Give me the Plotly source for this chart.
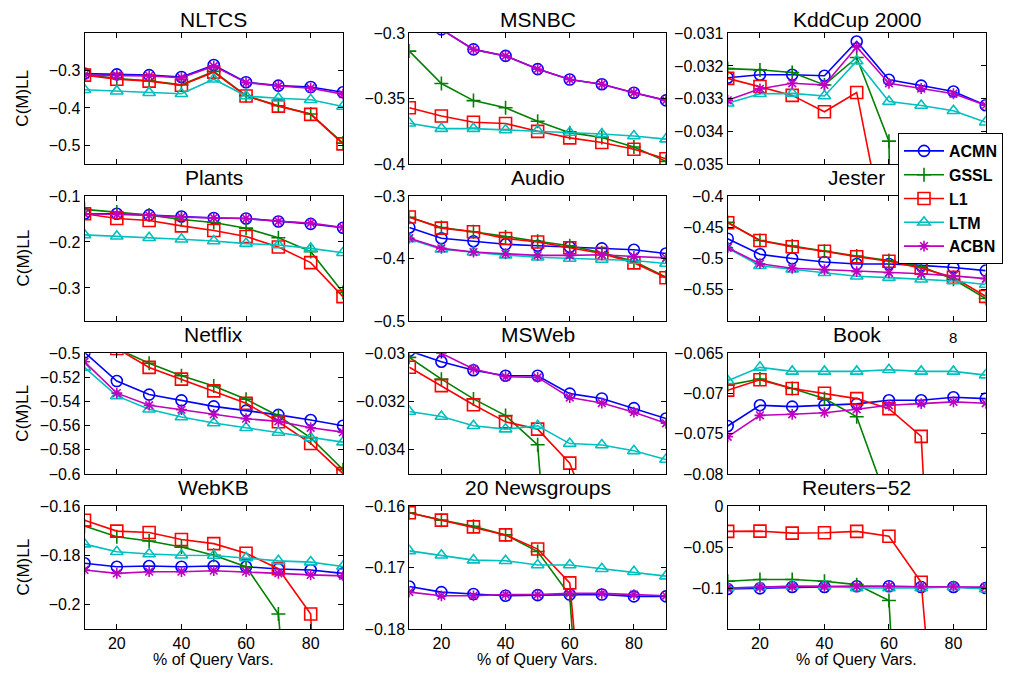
import plotly.graph_objects as go

# Page body has an 8px margin: draw the figure 16px smaller and position in reference pixels minus 8.
W, H = 1015, 662
OFF = 8
query_pct = [10, 20, 30, 40, 50, 60, 70, 80, 90]
methods = ["ACMN", "GSSL", "L1", "LTM", "ACBN"]

nltcs = {
    "ACMN": [-0.308, -0.310, -0.312, -0.317, -0.285, -0.331, -0.340, -0.344, -0.358],
    "GSSL": [-0.310, -0.321, -0.327, -0.338, -0.302, -0.367, -0.394, -0.416, -0.494],
    "L1":   [-0.312, -0.323, -0.328, -0.339, -0.304, -0.368, -0.395, -0.417, -0.496],
    "LTM":  [-0.351, -0.355, -0.359, -0.362, -0.323, -0.368, -0.374, -0.378, -0.396],
    "ACBN": [-0.312, -0.313, -0.314, -0.319, -0.288, -0.332, -0.341, -0.347, -0.363],
}
msnbc = {
    "ACMN": [-0.275, -0.297, -0.3123, -0.3173, -0.3274, -0.3354, -0.3390, -0.3455, -0.3513],
    "GSSL": [-0.3136, -0.3384, -0.3515, -0.3570, -0.3673, -0.3760, -0.3797, -0.3870, -0.3980],
    "L1":   [-0.3570, -0.3633, -0.3680, -0.3690, -0.3750, -0.3800, -0.3836, -0.3887, -0.3960],
    "LTM":  [-0.3688, -0.3729, -0.3729, -0.3740, -0.3746, -0.3759, -0.3770, -0.3786, -0.3810],
    "ACBN": [-0.275, -0.297, -0.3123, -0.3173, -0.3274, -0.3354, -0.3390, -0.3455, -0.3513],
}
kddcup = {
    "ACMN": [-0.03236, -0.03227, -0.03227, -0.03230, -0.03125, -0.03242, -0.03260, -0.03278, -0.03320],
    "GSSL": [-0.03208, -0.03212, -0.03220, -0.03258, -0.03174, -0.03430, -0.10, -0.10, -0.10],
    "L1":   [-0.03238, -0.03263, -0.03290, -0.03340, -0.03281, -0.03780, -0.060, -0.070, -0.080],
    "LTM":  [-0.03314, -0.03285, -0.03284, -0.03292, -0.03185, -0.03309, -0.03321, -0.03337, -0.03372],
    "ACBN": [-0.03305, -0.03270, -0.03253, -0.03258, -0.03142, -0.03253, -0.03269, -0.03285, -0.03320],
}
plants = {
    "ACMN": [-0.1387, -0.1387, -0.1416, -0.1445, -0.1480, -0.1490, -0.1555, -0.1606, -0.1690],
    "GSSL": [-0.1290, -0.1350, -0.1416, -0.1510, -0.1577, -0.1700, -0.1910, -0.2210, -0.3100],
    "L1":   [-0.1387, -0.1490, -0.1533, -0.1650, -0.1750, -0.1880, -0.2110, -0.2450, -0.3190],
    "LTM":  [-0.1847, -0.1876, -0.1910, -0.1940, -0.1980, -0.2036, -0.2066, -0.2140, -0.2234],
    "ACBN": [-0.1387, -0.1400, -0.1420, -0.1460, -0.1475, -0.1490, -0.1550, -0.1590, -0.1685],
}
audio = {
    "ACMN": [-0.3503, -0.3676, -0.3724, -0.3773, -0.3795, -0.3816, -0.3838, -0.3860, -0.3920],
    "GSSL": [-0.3340, -0.3503, -0.3573, -0.3654, -0.3724, -0.3795, -0.3908, -0.4043, -0.4297],
    "L1":   [-0.3335, -0.3514, -0.3573, -0.3680, -0.3735, -0.3827, -0.3920, -0.4070, -0.4308],
    "LTM":  [-0.3686, -0.3850, -0.3900, -0.3946, -0.3980, -0.4000, -0.4016, -0.4032, -0.4080],
    "ACBN": [-0.3676, -0.3838, -0.3897, -0.3924, -0.3950, -0.3950, -0.3940, -0.3968, -0.3990],
}
jester = {
    "ACMN": [-0.4683, -0.4933, -0.5000, -0.5056, -0.5089, -0.5089, -0.5110, -0.5144, -0.5194],
    "GSSL": [-0.4422, -0.4711, -0.4800, -0.4883, -0.4961, -0.5033, -0.5128, -0.5333, -0.5639],
    "L1":   [-0.4428, -0.4711, -0.4811, -0.4883, -0.4972, -0.5044, -0.5156, -0.5300, -0.5606],
    "LTM":  [-0.4833, -0.5117, -0.5172, -0.5228, -0.5283, -0.5306, -0.5333, -0.5361, -0.5417],
    "ACBN": [-0.4828, -0.5083, -0.5156, -0.5178, -0.5211, -0.5228, -0.5244, -0.5278, -0.5322],
}
netflix = {
    "ACMN": [-0.4992, -0.5230, -0.5342, -0.5390, -0.5440, -0.5475, -0.5510, -0.5553, -0.5600],
    "GSSL": [-0.475, -0.496, -0.5083, -0.5186, -0.5270, -0.5380, -0.5520, -0.5700, -0.5964],
    "L1":   [-0.475, -0.496, -0.5117, -0.5214, -0.5311, -0.5414, -0.5567, -0.5747, -0.5997],
    "LTM":  [-0.5117, -0.5353, -0.5464, -0.5528, -0.5578, -0.5617, -0.5656, -0.5700, -0.5736],
    "ACBN": [-0.5070, -0.5330, -0.5430, -0.5467, -0.5506, -0.5542, -0.5564, -0.5617, -0.5653],
}
msweb = {
    "ACMN": [-0.0299, -0.03035, -0.03070, -0.03093, -0.03093, -0.03167, -0.03187, -0.03227, -0.03270],
    "GSSL": [-0.03017, -0.03107, -0.03189, -0.03258, -0.03379, -0.10, -0.10, -0.10, -0.10],
    "L1":   [-0.03058, -0.03134, -0.03213, -0.03284, -0.03314, -0.03455, -0.0380, -0.040, -0.040],
    "LTM":  [-0.03241, -0.03262, -0.03300, -0.03314, -0.03300, -0.03374, -0.03380, -0.03404, -0.03440],
    "ACBN": [-0.0297, -0.03000, -0.03065, -0.03097, -0.03100, -0.03183, -0.03206, -0.03244, -0.03290],
}
book = {
    "ACMN": [-0.07404, -0.07146, -0.07163, -0.07146, -0.07129, -0.07083, -0.07083, -0.07046, -0.07063],
    "GSSL": [-0.06896, -0.06820, -0.06938, -0.07063, -0.07288, -0.0840, -0.10, -0.10, -0.10],
    "L1":   [-0.06958, -0.06829, -0.06938, -0.06996, -0.07063, -0.07188, -0.07533, -0.150, -0.150],
    "LTM":  [-0.06842, -0.06675, -0.06725, -0.06725, -0.06725, -0.06704, -0.06725, -0.06725, -0.06771],
    "ACBN": [-0.07538, -0.07271, -0.07258, -0.07238, -0.07196, -0.07146, -0.07125, -0.07104, -0.07121],
}
webkb = {
    "ACMN": [-0.1833, -0.1847, -0.1844, -0.1847, -0.1844, -0.1847, -0.1856, -0.1860, -0.1874],
    "GSSL": [-0.1681, -0.1725, -0.1742, -0.1767, -0.1800, -0.1847, -0.2039, -0.50, -0.50],
    "L1":   [-0.1658, -0.1702, -0.1708, -0.1736, -0.1753, -0.1792, -0.1855, -0.2039, -0.50],
    "LTM":  [-0.1755, -0.1786, -0.1795, -0.1800, -0.1801, -0.1811, -0.1823, -0.1828, -0.1846],
    "ACBN": [-0.1860, -0.1874, -0.1867, -0.1867, -0.1863, -0.1867, -0.1874, -0.1880, -0.1884],
}
newsgroups = {
    "ACMN": [-0.1731, -0.1740, -0.1743, -0.1746, -0.1745, -0.1744, -0.1744, -0.1747, -0.1747],
    "GSSL": [-0.1611, -0.1623, -0.1633, -0.1647, -0.1674, -0.1745, -0.250, -0.250, -0.250],
    "L1":   [-0.1611, -0.1623, -0.1634, -0.1647, -0.1670, -0.1725, -0.230, -0.250, -0.250],
    "LTM":  [-0.1673, -0.1680, -0.1688, -0.1689, -0.1696, -0.1696, -0.1702, -0.1707, -0.1714],
    "ACBN": [-0.1740, -0.1746, -0.1746, -0.1744, -0.1744, -0.1742, -0.1742, -0.1744, -0.1746],
}
reuters = {
    "ACMN": [-0.1012, -0.1004, -0.0988, -0.0988, -0.0979, -0.0979, -0.0988, -0.0988, -0.1000],
    "GSSL": [-0.0917, -0.0897, -0.0897, -0.0917, -0.0959, -0.1153, -0.80, -0.80, -0.80],
    "L1":   [-0.0310, -0.0306, -0.0331, -0.0327, -0.0310, -0.0368, -0.0930, -1.00, -1.00],
    "LTM":  [-0.1000, -0.0988, -0.0979, -0.0979, -0.1000, -0.1000, -0.1000, -0.0988, -0.1012],
    "ACBN": [-0.1000, -0.0988, -0.0979, -0.0979, -0.0979, -0.0979, -0.0979, -0.0979, -0.0988],
}

titles = ["NLTCS", "MSNBC", "KddCup 2000", "Plants", "Audio", "Jester",
          "Netflix", "MSWeb", "Book", "WebKB", "20 Newsgroups", "Reuters\u221252"]
panel_data = [nltcs, msnbc, kddcup, plants, audio, jester,
              netflix, msweb, book, webkb, newsgroups, reuters]
y_ranges = [[-0.55, -0.2], [-0.4, -0.3], [-0.035, -0.031],
            [-0.372, -0.1], [-0.5, -0.3], [-0.6, -0.4],
            [-0.6, -0.5], [-0.035, -0.03], [-0.08, -0.065],
            [-0.21, -0.16], [-0.18, -0.16], [-0.15, 0.0]]
y_ticks = [[-0.5, -0.4, -0.3], [-0.4, -0.35, -0.3], [-0.035, -0.034, -0.033, -0.032, -0.031],
           [-0.3, -0.2, -0.1], [-0.5, -0.4, -0.3], [-0.55, -0.5, -0.45, -0.4],
           [-0.6, -0.58, -0.56, -0.54, -0.52, -0.5], [-0.034, -0.032, -0.03], [-0.08, -0.075, -0.07, -0.065],
           [-0.2, -0.18, -0.16], [-0.18, -0.17, -0.16], [-0.1, -0.05, 0.0]]
x_ticks = [20, 40, 60, 80]

colors = {"ACMN": "#0000ff", "GSSL": "#008000", "L1": "#ff0000", "LTM": "#00bfbf", "ACBN": "#bf00bf"}
symbols = {"ACMN": "circle-open", "GSSL": "cross-thin-open", "L1": "square-open",
           "LTM": "triangle-up-open", "ACBN": "asterisk-open"}
msizes = {"ACMN": 11, "GSSL": 10, "L1": 12, "LTM": 11, "ACBN": 9}

FONT = "Liberation Sans, Arial, Helvetica, sans-serif"

# positions in reference-image pixels
col_px = [(84.5, 343.0), (409.3, 666.0), (727.7, 985.7)]
row_px = [(33.3, 164.0), (196.0, 321.0), (353.3, 474.0), (506.0, 629.0)]


def px(x):
    return (x - OFF) / W


def py(y):
    return 1 - (y - OFF) / H


def fmt(v):
    s = ("%g" % abs(v))
    return ("\u2212" + s) if v < 0 else s


fig = go.Figure()
layout = dict(
    template="none",
    width=W, height=H, margin=dict(l=0, r=0, t=0, b=0, pad=0), autosize=False,
    paper_bgcolor="white", plot_bgcolor="white",
    font=dict(family=FONT, size=16, color="black"),
    showlegend=True,
)
annotations = []
axfont = dict(size=16, family=FONT, color="black")

for i, (title, data) in enumerate(zip(titles, panel_data)):
    r, c = divmod(i, 3)
    k = i + 1
    xa = "x" if k == 1 else "x%d" % k
    ya = "y" if k == 1 else "y%d" % k
    x0, x1 = col_px[c]
    top, bot = row_px[r]
    layout["xaxis" if k == 1 else "xaxis%d" % k] = dict(
        domain=[px(x0), px(x1)], anchor=ya, range=[10, 90], tickvals=x_ticks,
        showticklabels=(r == 3), ticks="inside", ticklen=5, tickwidth=1, tickcolor="black",
        showline=True, linecolor="black", linewidth=1, mirror="ticks",
        showgrid=False, zeroline=False, tickfont=axfont, automargin=False,
    )
    layout["yaxis" if k == 1 else "yaxis%d" % k] = dict(
        domain=[py(bot), py(top)], anchor=xa, range=y_ranges[i], tickvals=y_ticks[i],
        ticktext=[fmt(v) for v in y_ticks[i]],
        ticks="inside", ticklen=5, tickwidth=1, tickcolor="black",
        showline=True, linecolor="black", linewidth=1, mirror="ticks",
        showgrid=False, zeroline=False, tickfont=axfont, automargin=False,
    )
    for m in methods:
        fig.add_trace(go.Scatter(
            x=query_pct, y=data[m], mode="lines+markers", name=m,
            legendgroup=m, showlegend=(i == 0),
            line=dict(color=colors[m], width=1.6),
            marker=dict(symbol=symbols[m], size=msizes[m], color=colors[m],
                        line=dict(color=colors[m], width=1.6)),
            xaxis=xa, yaxis=ya, cliponaxis=True,
        ))
    annotations.append(dict(
        text=title, xref="paper", yref="paper", x=px((x0 + x1) / 2), y=py(top),
        xanchor="center", yanchor="bottom", yshift=(0 if r == 0 else 5), showarrow=False,
        font=dict(size=21, family=FONT, color="black"),
    ))
    if c == 0:
        annotations.append(dict(
            text="C(M)LL", xref="paper", yref="paper", x=px(23), y=py((top + bot) / 2),
            xanchor="center", yanchor="middle", textangle=-90, showarrow=False,
            font=dict(size=17, family=FONT, color="black"),
        ))
    if r == 3:
        annotations.append(dict(
            text="% of Query Vars.", xref="paper", yref="paper", x=px((x0 + x1) / 2), y=py(670),
            xanchor="center", yanchor="bottom", showarrow=False,
            font=dict(size=16, family=FONT, color="black"),
        ))

annotations.append(dict(
    text="8", xref="paper", yref="paper", x=px(953), y=py(337),
    xanchor="center", yanchor="middle", showarrow=False,
    font=dict(size=15, family=FONT, color="black"),
))

layout["annotations"] = annotations
layout["legend"] = dict(
    x=px(898), y=py(133), xanchor="left", yanchor="top",
    bgcolor="white", bordercolor="black", borderwidth=1,
    font=dict(size=16, family=FONT, color="black", weight="bold"),
    tracegroupgap=0, itemwidth=40,
)
fig.update_layout(**layout)
fig.write_html("out.html")
